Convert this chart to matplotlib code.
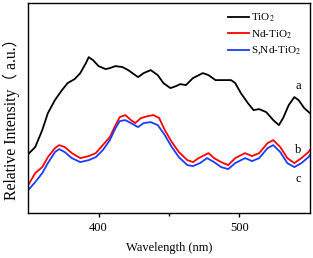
import matplotlib
matplotlib.use("Agg")
import matplotlib.pyplot as plt

plt.rcParams['font.family'] = ['Liberation Serif', 'Noto Sans CJK SC']
plt.rcParams['mathtext.fontset'] = 'stix'

# curve a: TiO2
wl_a = [350, 355, 360, 364, 369, 374, 378, 383, 387, 391, 393, 396, 400, 405, 408, 412, 417,
        421, 428, 432, 437, 442, 446, 451, 455, 458, 462, 467, 474, 478, 483, 488, 494, 497,
        501, 506, 510, 514, 519, 524, 528, 531, 535, 539, 542, 546, 550]
int_a = [59, 66, 83, 100, 113, 123, 130, 134, 140, 150, 156, 153, 147, 144, 145, 147, 146,
         143, 136, 140, 143, 138, 130, 125, 127, 129, 128, 135, 140, 138, 133, 133, 133, 130,
         120, 110, 103, 104, 101, 93, 88, 95, 108, 116, 113, 105, 100]

# curve b: Nd-TiO2
wl_b = [350, 355, 360, 364, 369, 372, 376, 381, 387, 393, 398, 403, 408, 412, 415, 419, 423,
        426, 430, 435, 439, 443, 447, 452, 457, 463, 467, 471, 478, 482, 487, 492, 497, 504,
        509, 514, 520, 524, 529, 534, 539, 544, 549, 550]
int_b = [28, 40, 46, 56, 65, 68, 66, 60, 55, 57, 60, 68, 76, 88, 96, 98, 93,
         90, 95, 97, 98, 95, 83, 71, 61, 53, 51, 55, 60, 55, 51, 48, 55, 60,
         57, 60, 70, 73, 66, 55, 50, 55, 61, 63]

# curve c: S,Nd-TiO2
wl_c = [350, 355, 360, 364, 369, 372, 376, 381, 387, 393, 398, 403, 408, 412, 415, 419, 423,
        428, 432, 437, 442, 447, 452, 457, 463, 467, 472, 477, 482, 487, 492, 497, 504, 509,
        514, 520, 524, 529, 534, 539, 544, 549, 550]
int_c = [23, 31, 40, 50, 61, 64, 61, 55, 51, 53, 56, 63, 73, 85, 92, 93, 90,
         86, 90, 91, 88, 78, 66, 56, 48, 47, 50, 55, 51, 46, 44, 50, 55, 52,
         55, 65, 68, 61, 50, 46, 50, 56, 58]

fig = plt.figure(figsize=(3.13, 2.58), dpi=100)
ax = fig.add_axes([0.09, 0.174, 0.9, 0.814])

ax.plot(wl_a, int_a, color='black', lw=1.3, label='TiO$_2$')
ax.plot(wl_b, int_b, color='#ff0000', lw=1.3, label='Nd-TiO$_2$')
ax.plot(wl_c, int_c, color='#1a3cff', lw=1.3, label='S,Nd-TiO$_2$')

ax.text(542, 127, 'a', fontsize=9, ha='center', va='center')
ax.text(542, 63, 'b', fontsize=9, ha='center', va='center')
ax.text(542, 34, 'c', fontsize=9, ha='center', va='center')

ax.set_xlim(350, 550)
ax.set_ylim(0, 210)
ax.set_xticks([400, 500])
ax.set_xticks([450], minor=True)
ax.set_yticks([])
ax.tick_params(axis='x', direction='out', labelsize=9, length=3, width=1)
ax.tick_params(axis='x', which='minor', direction='out', length=2, width=1)
for s in ax.spines.values():
    s.set_linewidth(1.0)

ax.set_xlabel('Wavelength (nm)', fontsize=9, labelpad=6)
ax.set_ylabel('Relative Intensity（ a.u.）', fontsize=11.3)
ax.yaxis.set_label_coords(-0.03, 0.465)

ax.legend(loc='upper right', frameon=False, fontsize=8, handlelength=1.9,
          handletextpad=0.2, labelspacing=0.35, borderaxespad=0.4)

fig.savefig('out.png', dpi=100)
